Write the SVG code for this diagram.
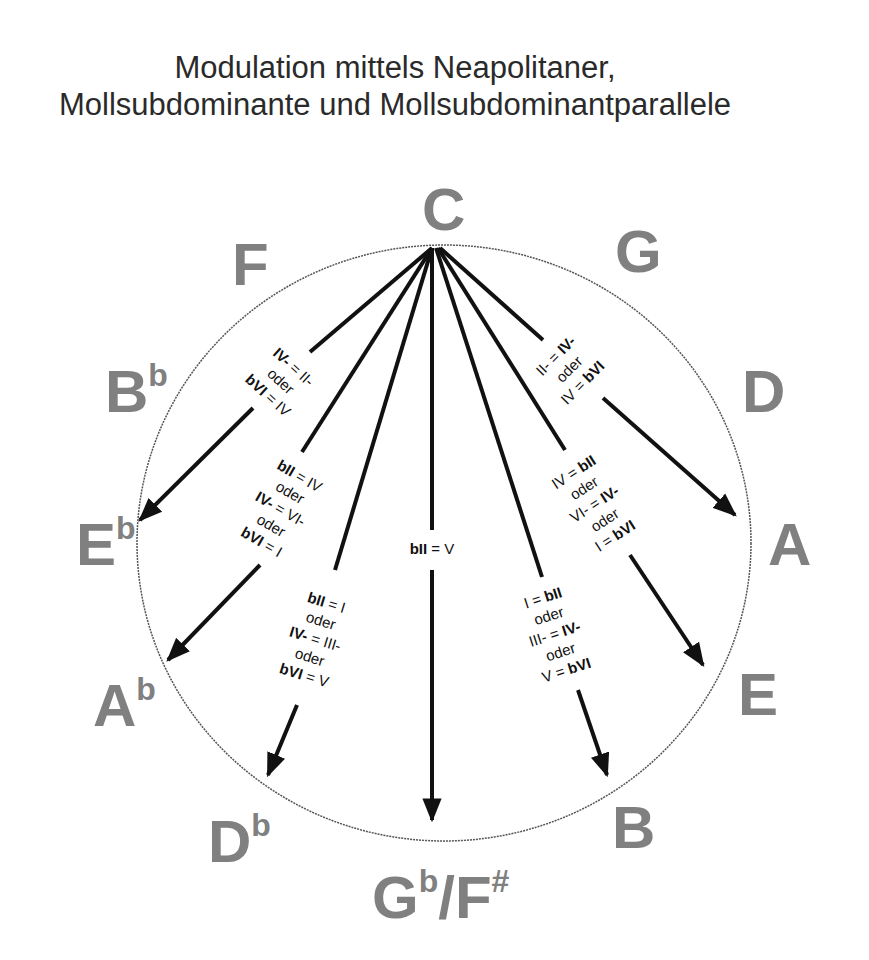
<svg xmlns="http://www.w3.org/2000/svg" width="869" height="960" viewBox="0 0 869 960">
<style>
.t{font-family:"Liberation Sans",Arial,sans-serif;fill:#2a2a2a}
.n{font-family:"Liberation Sans",Arial,sans-serif;fill:#808080;font-size:60px;font-weight:bold}
.s{font-size:32px}
.l{font-family:"Liberation Sans",Arial,sans-serif;font-size:15px;fill:#111;text-anchor:middle}
.b{font-weight:bold}
.ln{stroke:#111;stroke-width:4;fill:none}
.ar{marker-end:url(#ah)}
</style>
<defs>
<marker id="ah" viewBox="0 0 10 8" refX="9" refY="4" markerWidth="6" markerHeight="5" orient="auto" markerUnits="strokeWidth">
<path d="M0,0 L10,4 L0,8 Z" fill="#111"/>
</marker>
</defs>
<rect width="869" height="960" fill="#fff"/>
<text class="t" x="395" y="78" font-size="31" text-anchor="middle">Modulation mittels Neapolitaner,</text>
<text class="t" x="395" y="115" font-size="31" text-anchor="middle">Mollsubdominante und Mollsubdominantparallele</text>
<ellipse id="circle" cx="444" cy="543" rx="307" ry="298" fill="none" stroke="#555" stroke-width="1.5" stroke-dasharray="2 1"/>
<g id="notes">
<text id="C" class="n" x="422" y="230">C</text>
<text id="G" class="n" x="615" y="272">G</text>
<text id="D" class="n" x="742" y="412">D</text>
<text id="A" class="n" x="768" y="565">A</text>
<text id="E" class="n" x="738" y="715">E</text>
<text id="B" class="n" x="612" y="848">B</text>
<text id="Gb" class="n" x="372" y="918">G<tspan class="s" dy="-26">b</tspan><tspan dy="26">/F</tspan><tspan class="s" dy="-26">#</tspan></text>
<text id="Db" class="n" x="208" y="862">D<tspan class="s" dy="-26">b</tspan></text>
<text id="Ab" class="n" x="93" y="726">A<tspan class="s" dy="-26">b</tspan></text>
<text id="Eb" class="n" x="76" y="565">E<tspan class="s" dy="-26">b</tspan></text>
<text id="Bb" class="n" x="105" y="412">B<tspan class="s" dy="-26">b</tspan></text>
<text id="F" class="n" x="232" y="285">F</text>
</g>
<g id="connectors">
<path class="ln" d="M432,248 L310,352"/><path class="ln ar" d="M253,408 L140,520"/>
<path class="ln" d="M432,248 L302,452"/><path class="ln ar" d="M260,565 L168,660"/>
<path class="ln" d="M432,248 L335,570"/><path class="ln ar" d="M297,705 L268,775"/>
<path class="ln" d="M432,248 L432,530"/><path class="ln ar" d="M432,570 L432,820"/>
<path class="ln" d="M436,248 L542,577"/><path class="ln ar" d="M578,690 L607,775"/>
<path class="ln" d="M438,248 L565,450"/><path class="ln ar" d="M630,555 L703,665"/>
<path class="ln" d="M440,248 L543,340"/><path class="ln ar" d="M603,398 L735,515"/>
</g>
<g id="lab1" transform="translate(280,382) rotate(42)">
<text class="l" y="-15"><tspan class="b">IV-</tspan> = II-</text>
<text class="l" y="4">oder</text>
<text class="l" y="23"><tspan class="b">bVI</tspan> = IV</text>
</g>
<g id="lab2" transform="translate(280,510) rotate(30)">
<text class="l" y="-34"><tspan class="b">bII</tspan> = IV</text>
<text class="l" y="-15">oder</text>
<text class="l" y="4"><tspan class="b">IV-</tspan> = VI-</text>
<text class="l" y="23">oder</text>
<text class="l" y="42"><tspan class="b">bVI</tspan> = I</text>
</g>
<g id="lab3" transform="translate(315,640) rotate(17)">
<text class="l" y="-34"><tspan class="b">bII</tspan> = I</text>
<text class="l" y="-15">oder</text>
<text class="l" y="4"><tspan class="b">IV-</tspan> = III-</text>
<text class="l" y="23">oder</text>
<text class="l" y="42"><tspan class="b">bVI</tspan> = V</text>
</g>
<g id="lab4" transform="translate(432,554)">
<text class="l"><tspan class="b">bII</tspan> = V</text>
</g>
<g id="lab5" transform="translate(555,635) rotate(-18)">
<text class="l" y="-34">I = <tspan class="b">bII</tspan></text>
<text class="l" y="-15">oder</text>
<text class="l" y="4">III- = <tspan class="b">IV-</tspan></text>
<text class="l" y="23">oder</text>
<text class="l" y="42">V = <tspan class="b">bVI</tspan></text>
</g>
<g id="lab6" transform="translate(595,505) rotate(-33)">
<text class="l" y="-34">IV = <tspan class="b">bII</tspan></text>
<text class="l" y="-15">oder</text>
<text class="l" y="4">VI- = <tspan class="b">IV-</tspan></text>
<text class="l" y="23">oder</text>
<text class="l" y="42">I = <tspan class="b">bVI</tspan></text>
</g>
<g id="lab7" transform="translate(570,370) rotate(-45)">
<text class="l" y="-15">II- = <tspan class="b">IV-</tspan></text>
<text class="l" y="4">oder</text>
<text class="l" y="23">IV = <tspan class="b">bVI</tspan></text>
</g>
</svg>
